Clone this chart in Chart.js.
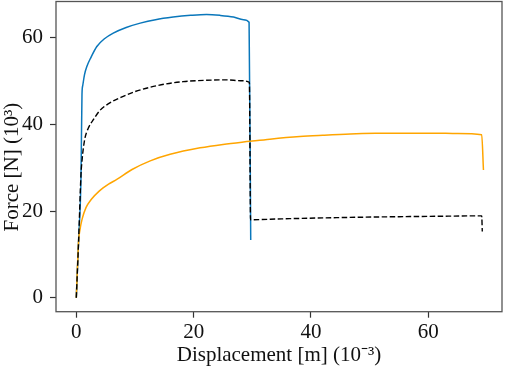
<!DOCTYPE html>
<html>
<head>
<meta charset="utf-8">
<script src="https://cdn.jsdelivr.net/npm/chart.js@4"></script>
<style>html,body{margin:0;padding:0;background:#fff}</style>
</head>
<body>
<canvas id="chart" width="505" height="368"></canvas>
<script>
// tick positions on both axes
const xTicks = [0, 20, 40, 60];
const yTicks = [0, 20, 40, 60];

// blue curve (solid)
const blueX = [0, 0.4, 0.8, 0.97, 1.1, 1.4, 1.8, 2.5, 3.5, 4.8, 6.3, 8.5, 10.9, 13.5, 16.5, 19.5, 22.2, 24.5, 26.8, 28.5, 29.45, 29.73];
const blueY = [0, 13.5, 28, 47, 49, 51.5, 53.4, 55.5, 58, 59.8, 61.1, 62.4, 63.4, 64.2, 64.8, 65.2, 65.4, 65.2, 64.8, 64.2, 63.6, 13.3];

// black curve (dashed)
const blackX = [0, 0.4, 0.8, 1.0, 1.2, 1.5, 2.0, 3.0, 4.0, 5.5, 8.0, 10, 12.6, 15, 18.2, 22, 25.6, 28, 29.5, 29.7, 35, 45, 55, 62, 69.1, 69.2];
const blackY = [0, 13.3, 28.5, 32, 34.5, 37, 39, 41.3, 43.2, 44.8, 46.5, 47.6, 48.6, 49.3, 49.9, 50.2, 50.3, 50.1, 49.7, 18.0, 18.2, 18.5, 18.7, 18.8, 18.9, 15.3];

// orange curve (solid)
const orangeX = [0, 0.4, 0.6, 1.0, 1.65, 2.5, 3.9, 5.5, 6.9, 9.5, 12.6, 16, 21.1, 25, 29.6, 33, 38.1, 42, 46.7, 51, 55.2, 60.9, 65, 69.1, 69.4];
const orangeY = [0, 13.3, 15.5, 18.2, 20.8, 22.6, 24.6, 26.2, 27.3, 29.6, 31.6, 33.1, 34.6, 35.4, 36.1, 36.6, 37.2, 37.5, 37.8, 37.95, 38.0, 38.0, 37.9, 37.6, 29.5];

const pts = (xs, ys) => xs.map((x, i) => ({x: x, y: ys[i]}));

Chart.defaults.font.family = "'Liberation Serif', 'Times New Roman', serif";
Chart.defaults.font.size = 21;
Chart.defaults.color = '#111';

// box around the plot area
const frame = {
  id: 'frame',
  afterDraw(chart) {
    const {ctx, chartArea: a} = chart;
    ctx.save();
    ctx.strokeStyle = '#555';
    ctx.lineWidth = 1.3;
    ctx.strokeRect(a.left, a.top, a.right - a.left, a.bottom - a.top);
    ctx.restore();
  }
};

const ctx = document.getElementById('chart');
const chart = new Chart(ctx, {
  type: 'line',
  data: {
    datasets: [
      {
        data: pts(blackX, blackY),
        borderColor: '#000000',
        borderWidth: 1.4,
        borderDash: [5.5, 2.5],
        order: 0
      },
      {
        data: pts(orangeX, orangeY),
        borderColor: '#ffa500',
        borderWidth: 1.5,
        order: 1
      },
      {
        data: pts(blueX, blueY),
        borderColor: '#0a77bb',
        borderWidth: 1.5,
        order: 2
      }
    ]
  },
  options: {
    responsive: false,
    animation: false,
    devicePixelRatio: 1,
    layout: {padding: {top: 1.5, right: 3, left: 0, bottom: 0}},
    elements: {point: {radius: 0}, line: {cubicInterpolationMode: 'monotone'}},
    plugins: {legend: {display: false}, tooltip: {enabled: false}},
    scales: {
      x: {
        type: 'linear',
        min: -3.46,
        max: 72.56,
        afterBuildTicks: s => { s.ticks = xTicks.map(v => ({value: v})); },
        afterFit: s => { s.height = 56.3; s.paddingLeft = 0; s.paddingRight = 0; },
        border: {display: false},
        grid: {drawOnChartArea: false, drawTicks: true, tickLength: 6, color: '#333', tickWidth: 1.2},
        ticks: {padding: 2, maxRotation: 0},
        title: {display: true, text: 'Displacement [m] (10⁻³)', padding: 0}
      },
      y: {
        type: 'linear',
        min: -3.24,
        max: 68.4,
        afterBuildTicks: s => { s.ticks = yTicks.map(v => ({value: v})); },
        afterFit: s => { s.width = 56; s.paddingTop = 0; s.paddingBottom = 0; },
        border: {display: false},
        grid: {drawOnChartArea: false, drawTicks: true, tickLength: 6, color: '#333', tickWidth: 1.2},
        ticks: {padding: 7},
        title: {display: true, text: 'Force [N] (10³)    ', padding: 0}
      }
    }
  },
  plugins: [frame]
});
</script>
</body>
</html>
